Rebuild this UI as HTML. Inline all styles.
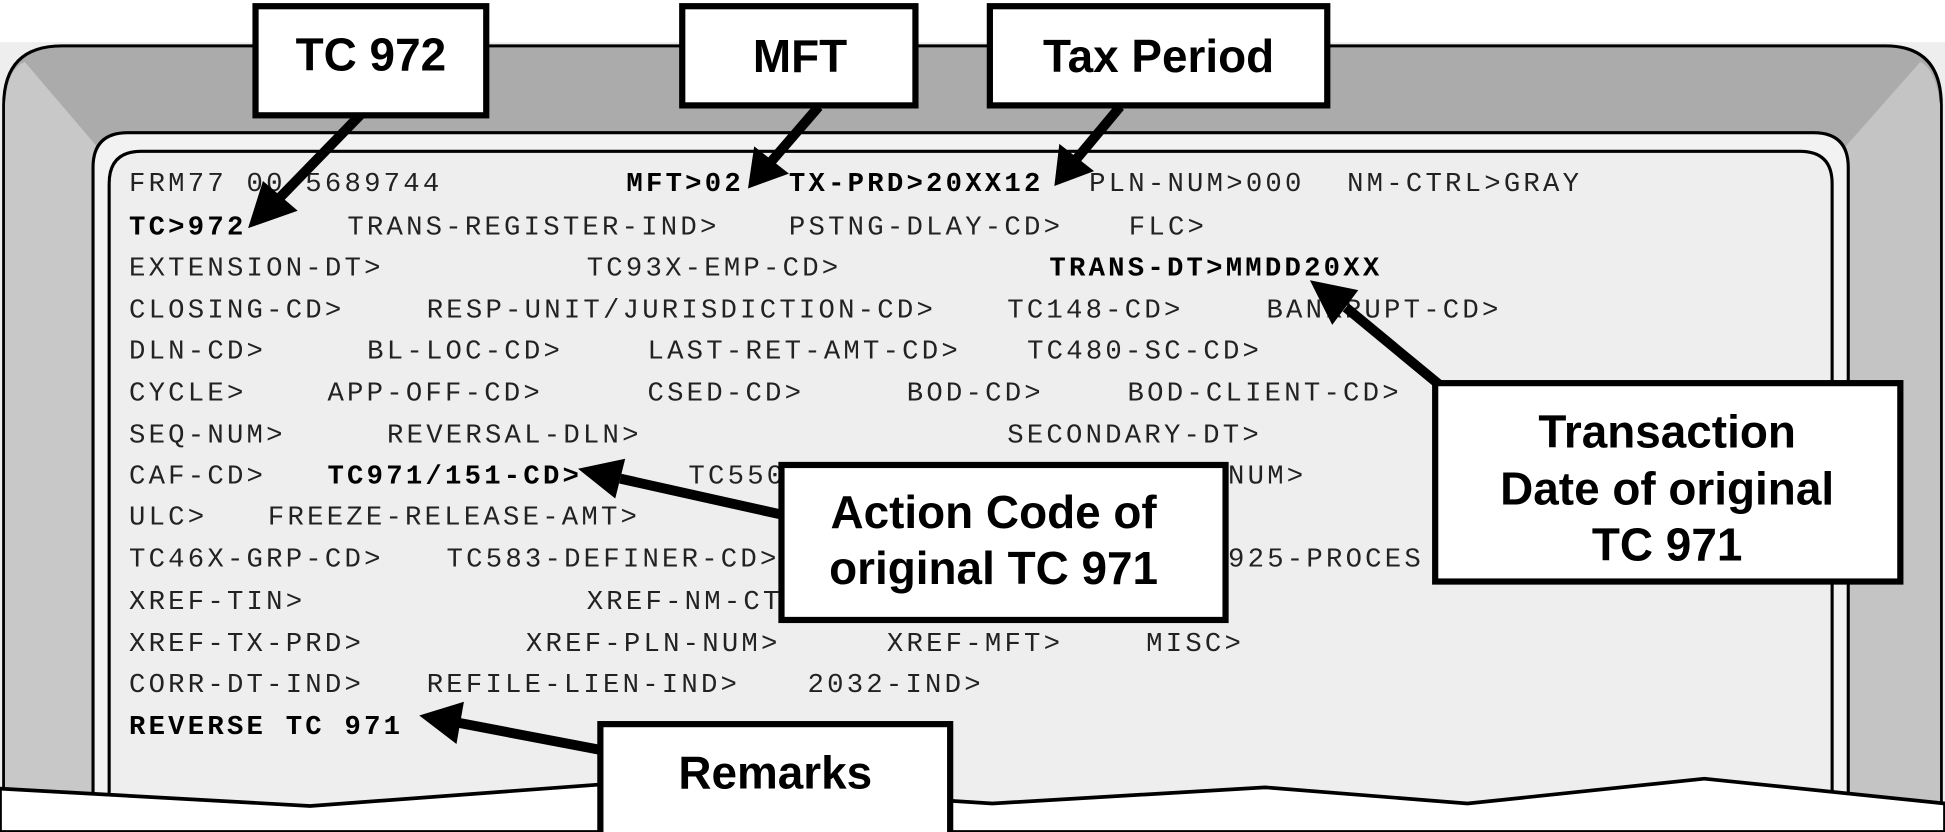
<!DOCTYPE html>
<html><head><meta charset="utf-8"><style>
html,body{margin:0;padding:0;background:#fff;}
svg{display:block;}
.c{font-family:"Liberation Sans",Arial,sans-serif;font-weight:bold;font-size:37px;fill:#000;text-anchor:middle;}
</style></head><body>
<svg width="1945" height="832" viewBox="0 0 1568 671" preserveAspectRatio="none" xmlns="http://www.w3.org/2000/svg">
<rect x="0" y="0" width="1568" height="671" fill="#fff"/>
<rect x="0" y="34" width="1568" height="620" fill="#eeeeee"/>
<path d="M3,671 L3,85 Q3,37 50,37 L1520,37 Q1565,37 1565,85 L1565,671 Z" fill="#ababab" stroke="#000" stroke-width="2.5"/>
<path d="M4,84 Q6,55 20,50 L78,118 L78,671 L4,671 Z" fill="#c8c8c8"/>
<path d="M1564,84 Q1560,55 1548,50 L1488,118 L1488,671 L1564,671 Z" fill="#c4c4c4"/>
<path d="M75,671 L75,135 Q75,107 103,107 L1462,107 Q1490,107 1490,135 L1490,671 Z" fill="#f2f2f2" stroke="#000" stroke-width="2.5"/>
<path d="M88,671 L88,148 Q88,122 114,122 L1451,122 Q1477,122 1477,148 L1477,671 Z" fill="#eeeeee" stroke="#000" stroke-width="2.5"/>
<path d="M0,636 L250,650 L520,630 L800,648 L1020,635 L1183,648 L1374,628 L1568,648 L1568,671 L0,671 Z" fill="#fff" stroke="#000" stroke-width="3"/>
<g font-family="Liberation Mono, Courier New, monospace" font-size="22" letter-spacing="2.6" fill="#222" xml:space="preserve">
<text x="104" y="154">FRM77 00-5689744</text><text font-weight="bold" fill="#000" x="505" y="154">MFT&gt;02</text><text font-weight="bold" fill="#000" x="636" y="154">TX-PRD&gt;20XX12</text><text x="878" y="154">PLN-NUM&gt;000</text><text x="1086" y="154">NM-CTRL&gt;GRAY</text>
<text font-weight="bold" fill="#000" x="104" y="189">TC&gt;972</text><text x="280" y="189">TRANS-REGISTER-IND&gt;</text><text x="636" y="189">PSTNG-DLAY-CD&gt;</text><text x="910" y="189">FLC&gt;</text>
<text x="104" y="222">EXTENSION-DT&gt;</text><text x="473" y="222">TC93X-EMP-CD&gt;</text><text font-weight="bold" fill="#000" x="846" y="222">TRANS-DT&gt;MMDD20XX</text>
<text x="104" y="256">CLOSING-CD&gt;</text><text x="344" y="256">RESP-UNIT/JURISDICTION-CD&gt;</text><text x="812" y="256">TC148-CD&gt;</text><text x="1021" y="256">BANKRUPT-CD&gt;</text>
<text x="104" y="289">DLN-CD&gt;</text><text x="296" y="289">BL-LOC-CD&gt;</text><text x="522" y="289">LAST-RET-AMT-CD&gt;</text><text x="828" y="289">TC480-SC-CD&gt;</text>
<text x="104" y="323">CYCLE&gt;</text><text x="264" y="323">APP-OFF-CD&gt;</text><text x="522" y="323">CSED-CD&gt;</text><text x="731" y="323">BOD-CD&gt;</text><text x="909" y="323">BOD-CLIENT-CD&gt;</text>
<text x="104" y="357">SEQ-NUM&gt;</text><text x="312" y="357">REVERSAL-DLN&gt;</text><text x="812" y="357">SECONDARY-DT&gt;</text>
<text x="104" y="390">CAF-CD&gt;</text><text font-weight="bold" fill="#000" x="264" y="390">TC971/151-CD&gt;</text><text x="555" y="390">TC550-DEFINER-CD&gt;</text><text x="990" y="390">NUM&gt;</text>
<text x="104" y="423">ULC&gt;</text><text x="216" y="423">FREEZE-RELEASE-AMT&gt;</text>
<text x="104" y="457">TC46X-GRP-CD&gt;</text><text x="360" y="457">TC583-DEFINER-CD&gt;</text><text x="990" y="457">925-PROCES</text>
<text x="104" y="491">XREF-TIN&gt;</text><text x="473" y="491">XREF-NM-CTRL&gt;</text>
<text x="104" y="525">XREF-TX-PRD&gt;</text><text x="424" y="525">XREF-PLN-NUM&gt;</text><text x="715" y="525">XREF-MFT&gt;</text><text x="924" y="525">MISC&gt;</text>
<text x="104" y="558">CORR-DT-IND&gt;</text><text x="344" y="558">REFILE-LIEN-IND&gt;</text><text x="651" y="558">2032-IND&gt;</text>
<text font-weight="bold" fill="#000" x="104" y="592">REVERSE TC 971</text>
</g>
<g stroke="#000" stroke-width="8" fill="none">
<line x1="295" y1="88" x2="225" y2="160"/>
<line x1="660" y1="86" x2="622" y2="130"/>
<line x1="903" y1="86" x2="868" y2="128"/>
<line x1="1160" y1="310" x2="1085" y2="248"/>
<line x1="630" y1="415" x2="500" y2="386"/>
<line x1="485" y1="605" x2="370" y2="583"/>
</g>
<g fill="#000">
<polygon points="200,184 212,146 240,170"/>
<polygon points="603,152 608,118 636,140"/>
<polygon points="850,150 854,116 882,138"/>
<polygon points="1056,226 1095,234 1074,262"/>
<polygon points="466,378 504,370 496,402"/>
<polygon points="338,577 374,566 368,600"/>
</g>
<g fill="#fff" stroke="#000" stroke-width="5">
<rect x="206" y="5" width="186" height="88"/>
<rect x="550" y="5" width="188" height="80"/>
<rect x="798" y="5" width="272" height="80"/>
<rect x="1157" y="309" width="375" height="160"/>
<rect x="630" y="375" width="358" height="125"/>
<rect x="484" y="584" width="282" height="92"/>
</g>
<text class="c" x="299" y="57">TC 972</text>
<text class="c" x="645" y="58">MFT</text>
<text class="c" x="934" y="58">Tax Period</text>
<text class="c" x="1344" y="361">Transaction</text>
<text class="c" x="1344" y="407">Date of original</text>
<text class="c" x="1344" y="452">TC 971</text>
<text class="c" x="801" y="426">Action Code of</text>
<text class="c" x="801" y="471">original TC 971</text>
<text class="c" x="625" y="636">Remarks</text>
</svg>
</body></html>
